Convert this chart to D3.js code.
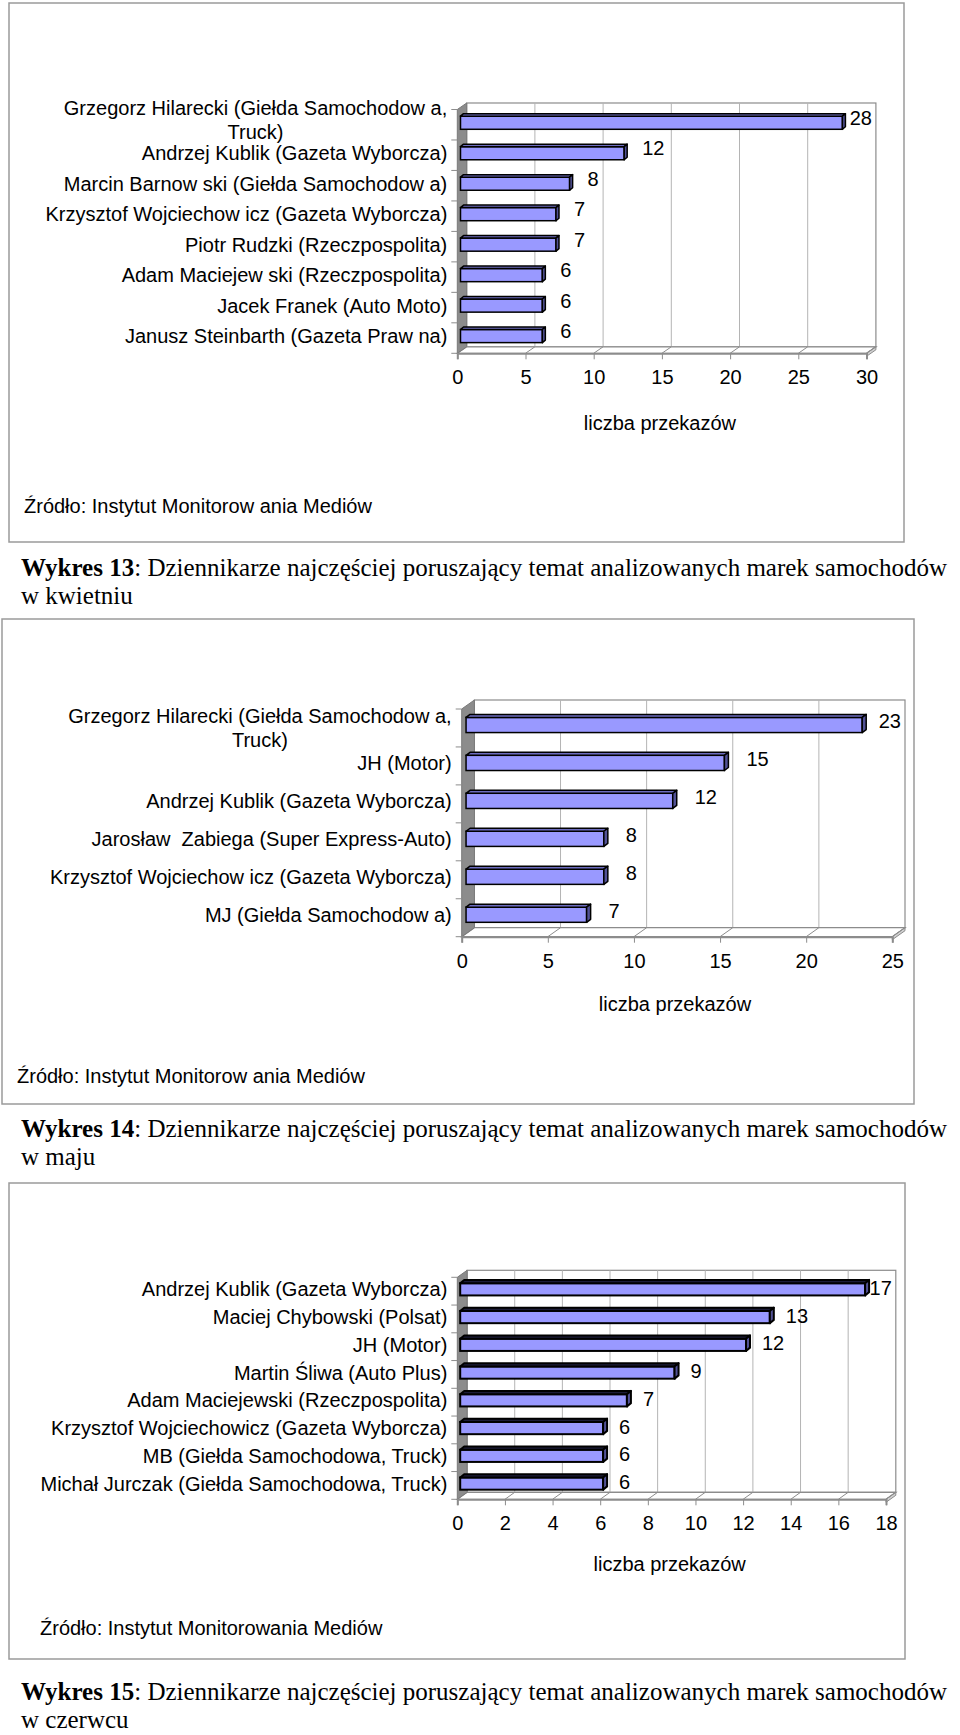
<!DOCTYPE html>
<html>
<head>
<meta charset="utf-8">
<script src="https://cdn.jsdelivr.net/npm/d3@7"></script>
<style>
  body { margin: 0; background: #fff; }
  svg { display: block; }
  text { white-space: pre; }
</style>
</head>
<body>
<svg id="page" width="960" height="1735"></svg>
<script>
// Wykres 13 - kwiecien
const names13 = [
  "Grzegorz Hilarecki (Giełda Samochodow a,\nTruck)",
  "Andrzej Kublik (Gazeta Wyborcza)",
  "Marcin Barnow ski (Giełda Samochodow a)",
  "Krzysztof Wojciechow icz (Gazeta Wyborcza)",
  "Piotr Rudzki (Rzeczpospolita)",
  "Adam Maciejew ski (Rzeczpospolita)",
  "Jacek Franek (Auto Moto)",
  "Janusz Steinbarth (Gazeta Praw na)"
]
const values13 = [28, 12, 8, 7, 7, 6, 6, 6]
const ticks13 = [0, 5, 10, 15, 20, 25, 30]

// Wykres 14 - maj
const names14 = [
  "Grzegorz Hilarecki (Giełda Samochodow a,\nTruck)",
  "JH (Motor)",
  "Andrzej Kublik (Gazeta Wyborcza)",
  "Jarosław  Zabiega (Super Express-Auto)",
  "Krzysztof Wojciechow icz (Gazeta Wyborcza)",
  "MJ (Giełda Samochodow a)"
]
const values14 = [23, 15, 12, 8, 8, 7]
const ticks14 = [0, 5, 10, 15, 20, 25]

// Wykres 15 - czerwiec
const names15 = [
  "Andrzej Kublik (Gazeta Wyborcza)",
  "Maciej Chybowski (Polsat)",
  "JH (Motor)",
  "Martin Śliwa (Auto Plus)",
  "Adam Maciejewski (Rzeczpospolita)",
  "Krzysztof Wojciechowicz (Gazeta Wyborcza)",
  "MB (Giełda Samochodowa, Truck)",
  "Michał Jurczak (Giełda Samochodowa, Truck)"
]
const values15 = [17, 13, 12, 9, 7, 6, 6, 6]
const ticks15 = [0, 2, 4, 6, 8, 10, 12, 14, 16, 18]

const axisTitle = "liczba przekazów"
const captionRest = ": Dziennikarze najczęściej poruszający temat analizowanych marek samochodów"

const SANS = "'Liberation Sans', Arial, sans-serif"
const SERIF = "'Liberation Serif', 'Times New Roman', serif"

const charts = [
  {
    names: names13, values: values13, ticks: ticks13,
    box: [9, 3, 904, 542],
    front: { x0: 457.3, x1: 866.5, top: 109.5, bottom: 353.3 },
    depth: [9.4, -6.5], barFrac: 0.43, barDepth: [3, -2.5],
    gap: 15, lift: 5, topFill: "#6c6cbf", strokeW: 1.5, wrapShift: -3,
    titleY: 430, sourceY: 513, sourceX: 24,
    source: "Źródło: Instytut Monitorow ania Mediów",
    caption: ["Wykres 13", "w kwietniu"], captionY: 576
  },
  {
    names: names14, values: values14, ticks: ticks14,
    box: [2, 619, 914, 1104],
    front: { x0: 461.7, x1: 892.3, top: 709, bottom: 936.7 },
    depth: [12.7, -9], barFrac: 0.4, barDepth: [4, -3],
    gap: 18, lift: 3.5, topFill: "#6c6cbf", strokeW: 1.5, wrapShift: 3,
    titleY: 1011, sourceY: 1083, sourceX: 17,
    source: "Źródło: Instytut Monitorow ania Mediów",
    caption: ["Wykres 14", "w maju"], captionY: 1137
  },
  {
    names: names15, values: values15, ticks: ticks15,
    box: [9, 1183, 905, 1659],
    front: { x0: 457.3, x1: 886, top: 1277.3, bottom: 1499.3 },
    depth: [9.8, -7], barFrac: 0.44, barDepth: [4, -3.3],
    gap: 12, lift: 1.5, topFill: "#1c1c38", strokeW: 2, wrapShift: 0,
    titleY: 1571, sourceY: 1635, sourceX: 40,
    source: "Źródło: Instytut Monitorowania Mediów",
    caption: ["Wykres 15", "w czerwcu"], captionY: 1700
  }
]

const svg = d3.select("#page")
const pts = arr => arr.map(p => p.join(",")).join(" ")

charts.forEach(drawChart)

function drawChart(c) {
  const g = svg.append("g")
  const [bx0, by0, bx1, by1] = c.box
  const [dx, dy] = c.depth
  const f = c.front

  // chart frame
  g.append("rect")
    .attr("x", bx0).attr("y", by0)
    .attr("width", bx1 - bx0).attr("height", by1 - by0)
    .attr("fill", "none")
    .attr("stroke", "#9a9a9a")
    .attr("stroke-width", 1.5)

  const max = c.ticks[c.ticks.length - 1]
  const x = d3.scaleLinear().domain([0, max]).range([f.x0, f.x1])
  const y = d3.scaleBand().domain(c.names).range([f.top, f.bottom])

  // back wall + gridlines
  g.append("rect")
    .attr("x", x(0) + dx).attr("y", f.top + dy)
    .attr("width", x(max) - x(0)).attr("height", f.bottom - f.top)
    .attr("fill", "#fff")
    .attr("stroke", "#8c8c8c")
    .attr("stroke-width", 1.2)

  g.selectAll(".grid")
    .data(c.ticks.slice(1, -1))
    .join("line")
    .attr("x1", d => x(d) + dx).attr("x2", d => x(d) + dx)
    .attr("y1", f.top + dy).attr("y2", f.bottom + dy)
    .attr("stroke", "#b4b4b4")

  // floor with a thin slab
  g.append("polygon")
    .attr("points", pts([[x(0), f.bottom], [x(max), f.bottom], [x(max) + dx, f.bottom + dy], [x(0) + dx, f.bottom + dy]]))
    .attr("fill", "#fff")
    .attr("stroke", "#8c8c8c")
    .attr("stroke-width", 1.2)
  g.append("polygon")
    .attr("points", pts([[x(max), f.bottom], [x(max) + dx, f.bottom + dy], [x(max) + dx, f.bottom + dy + 3], [x(max), f.bottom + 3]]))
    .attr("fill", "#d0d0d0")
    .attr("stroke", "#8c8c8c")

  g.selectAll(".floorline")
    .data(c.ticks.slice(1))
    .join("line")
    .attr("x1", d => x(d)).attr("x2", d => x(d) + dx)
    .attr("y1", f.bottom).attr("y2", f.bottom + dy)
    .attr("stroke", "#8c8c8c")

  // left side wall
  g.append("polygon")
    .attr("points", pts([[x(0), f.top], [x(0) + dx, f.top + dy], [x(0) + dx, f.bottom + dy], [x(0), f.bottom]]))
    .attr("fill", "#8c8c8c")
    .attr("stroke", "#7a7a7a")

  // category ticks at band edges
  const edges = c.names.map(n => y(n)).concat([f.bottom])
  g.selectAll(".ctick")
    .data(edges)
    .join("line")
    .attr("x1", x(0) - 6).attr("x2", x(0))
    .attr("y1", d => d).attr("y2", d => d)
    .attr("stroke", "#8c8c8c")

  // value axis
  const axis = d3.axisBottom(x)
    .tickValues(c.ticks)
    .tickSize(6)
    .tickPadding(11)
    .tickFormat(d3.format("d"))

  const ax = g.append("g")
    .attr("transform", `translate(0,${f.bottom})`)
    .call(axis)
    .attr("font-family", SANS)
    .attr("font-size", 20)
  ax.select(".domain").attr("stroke", "#8c8c8c").attr("stroke-width", 2)
  ax.selectAll(".tick line").attr("stroke", "#8c8c8c")
  ax.selectAll(".tick text").attr("fill", "#000")

  g.append("text")
    .attr("x", (x(0) + x(max)) / 2 - 2)
    .attr("y", c.titleY)
    .attr("text-anchor", "middle")
    .attr("font-family", SANS)
    .attr("font-size", 20)
    .text(axisTitle)

  // bars
  const h = y.bandwidth() * c.barFrac
  const [bdx, bdy] = c.barDepth
  const ox = (dx - bdx) / 2
  const oy = (dy - bdy) / 2
  const rows = c.names.map((name, i) => ({ name, value: c.values[i] }))

  rows.forEach(d => {
    const x0 = x(0) + ox
    const x1 = x(d.value) + ox
    const cy = y(d.name) + y.bandwidth() / 2 + oy
    const top = cy - h / 2
    d.cy = cy
    d.end = x1 + bdx

    g.append("rect")
      .attr("x", x0).attr("y", top)
      .attr("width", x1 - x0).attr("height", h)
      .attr("fill", "#9999ff")
      .attr("stroke", "#000")
      .attr("stroke-width", c.strokeW)
    g.append("polygon")
      .attr("points", pts([[x0, top], [x0 + bdx, top + bdy], [x1 + bdx, top + bdy], [x1, top]]))
      .attr("fill", c.topFill)
      .attr("stroke", "#000")
      .attr("stroke-width", c.strokeW)
      .attr("stroke-linejoin", "round")
    g.append("polygon")
      .attr("points", pts([[x1, top], [x1 + bdx, top + bdy], [x1 + bdx, top + h + bdy], [x1, top + h]]))
      .attr("fill", "#525296")
      .attr("stroke", "#000")
      .attr("stroke-width", c.strokeW)
      .attr("stroke-linejoin", "round")
  })

  // value labels, kept inside the back wall
  const wallRight = x(max) + dx - 4
  rows.forEach(d => {
    const t = g.append("text")
      .attr("y", d.cy - c.lift)
      .attr("dy", "0.35em")
      .attr("font-family", SANS)
      .attr("font-size", 20)
      .text(d.value)
    const w = t.node().getComputedTextLength()
    t.attr("x", Math.min(d.end + c.gap, wallRight - w))
  })

  // category labels (wrapped ones are centred as a block)
  const labelRight = x(0) - 10
  rows.forEach(d => {
    const lines = d.name.split("\n")
    if (lines.length === 1) {
      g.append("text")
        .attr("x", labelRight)
        .attr("y", d.cy)
        .attr("dy", "0.35em")
        .attr("text-anchor", "end")
        .attr("font-family", SANS)
        .attr("font-size", 20)
        .text(d.name)
      return
    }
    const lh = 24
    const texts = lines.map((line, i) => g.append("text")
      .attr("y", d.cy + c.wrapShift + (i - (lines.length - 1) / 2) * lh)
      .attr("dy", "0.35em")
      .attr("text-anchor", "middle")
      .attr("font-family", SANS)
      .attr("font-size", 20)
      .text(line))
    const maxW = d3.max(texts, t => t.node().getComputedTextLength())
    texts.forEach(t => t.attr("x", labelRight - maxW / 2))
  })

  // source
  g.append("text")
    .attr("x", c.sourceX)
    .attr("y", c.sourceY)
    .attr("font-family", SANS)
    .attr("font-size", 20)
    .text(c.source)

  // caption below the frame
  const cap = g.append("text")
    .attr("x", 21)
    .attr("y", c.captionY)
    .attr("font-family", SERIF)
    .attr("font-size", 25)
  cap.append("tspan").attr("font-weight", "bold").text(c.caption[0])
  cap.append("tspan").text(captionRest)

  g.append("text")
    .attr("x", 21)
    .attr("y", c.captionY + 28)
    .attr("font-family", SERIF)
    .attr("font-size", 25)
    .text(c.caption[1])
}
</script>
</body>
</html>
